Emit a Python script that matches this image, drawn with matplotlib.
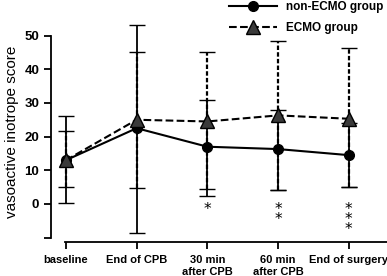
import matplotlib.pyplot as plt
from matplotlib.lines import Line2D
import numpy as np

plt.rcParams['font.family'] = ['Liberation Sans', 'DejaVu Sans']

# time points
labels = ['baseline', 'End of CPB', '30 min\nafter CPB', '60 min\nafter CPB', 'End of surgery']
x = np.arange(len(labels))

# non-ECMO group (mean, lower and upper error limits)
non_mean = [13.0, 22.5, 17.0, 16.3, 14.5]
non_low = [0.3, -8.6, 2.4, 4.2, 5.0]
non_high = [26.0, 53.0, 31.0, 28.0, 24.0]

# ECMO group
ecmo_mean = [13.0, 25.0, 24.5, 26.3, 25.3]
ecmo_low = [5.0, 4.8, 4.5, 4.2, 5.0]
ecmo_high = [21.7, 45.0, 45.0, 48.4, 46.3]

# significance stars
stars = [0, 0, 1, 2, 3]

fig = plt.figure(figsize=(3.87, 2.76), dpi=100)
ax = fig.add_axes([0.132, 0.123, 0.868, 0.797])

non_err = [np.array(non_mean) - np.array(non_low), np.array(non_high) - np.array(non_mean)]
ecmo_err = [np.array(ecmo_mean) - np.array(ecmo_low), np.array(ecmo_high) - np.array(ecmo_mean)]

l1, caps1, bars1 = ax.errorbar(x, non_mean, yerr=non_err, color='black', lw=1.5,
                               marker='o', ms=7, capsize=6, elinewidth=1.3, zorder=3)
l2, caps2, bars2 = ax.errorbar(x, ecmo_mean, yerr=ecmo_err, color='black', lw=1.5, ls='--',
                               marker='^', ms=10, mfc='#3a3a3a', mec='black',
                               capsize=6, elinewidth=1.6, zorder=4)
for b in bars2:
    b.set_linestyle((0, (2, 1)))
for c in caps1:
    c.set_color('#777777')
for c in caps2:
    c.set_color('#aaaaaa')

for xi, n in zip(x, stars):
    for k in range(n):
        ax.text(xi, -1.5 - 3.0 * k, '*', ha='center', va='center', fontsize=11,
                family='DejaVu Sans')

ax.set_xlim(-0.21, 4.54)
ax.set_ylim(-11.3, 54)
ax.set_xticks(x)
ax.set_xticklabels(labels, fontsize=8, fontweight='bold', linespacing=1.3)
ax.set_yticks([-10, 0, 10, 20, 30, 40, 50])
ax.set_yticklabels(['', '0', '10', '20', '30', '40', '50'], fontsize=9.5, fontweight='bold')
ax.tick_params(axis='both', length=5, width=1.3, direction='out')
ax.tick_params(axis='x', pad=4)
ax.spines['top'].set_visible(False)
ax.spines['right'].set_visible(False)
ax.spines['left'].set_bounds(-10, 50)
ax.spines['bottom'].set_bounds(-0.02, 4.54)
ax.spines['left'].set_linewidth(1.3)
ax.spines['bottom'].set_linewidth(1.3)
ax.set_ylabel('vasoactive inotrope score', fontsize=11)

h1 = Line2D([], [], color='black', lw=1.5, marker='o', ms=7)
h2 = Line2D([], [], color='black', lw=1.5, ls='--', marker='^', ms=10, mfc='#3a3a3a', mec='black')
fig.legend(handles=[h1, h2], labels=['non-ECMO group', 'ECMO group'], loc='upper left',
           bbox_to_anchor=(0.565, 1.035), frameon=False,
           prop={'size': 8.5, 'weight': 'bold'}, handlelength=4, labelspacing=0.75)

fig.savefig('out.png', dpi=100)
